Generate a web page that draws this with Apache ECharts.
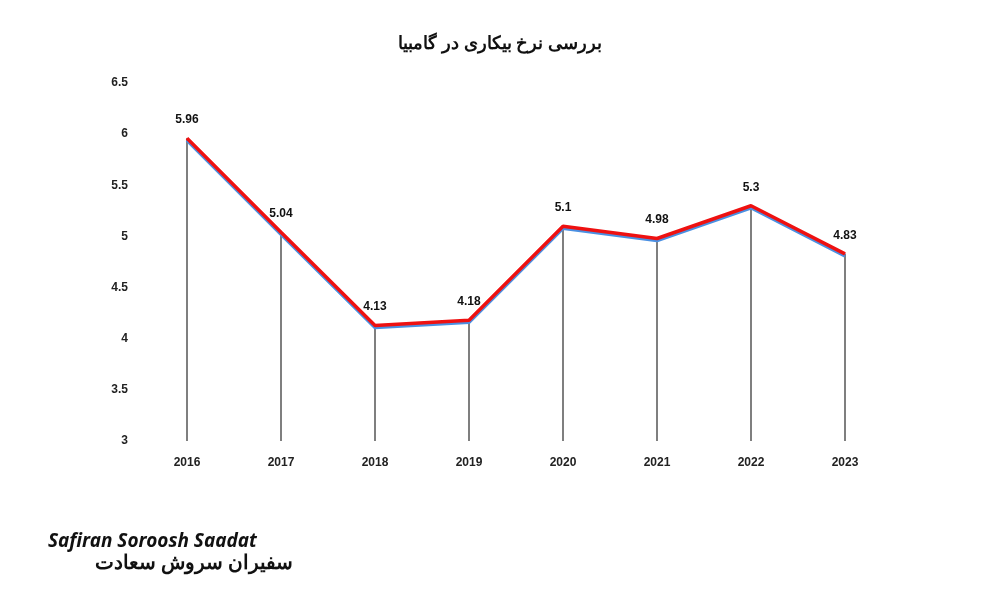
<!DOCTYPE html>
<html lang="fa">
<head>
<meta charset="UTF-8">
<title>بررسی نرخ بیکاری در گامبیا</title>
<script src="https://cdn.jsdelivr.net/npm/echarts@6/dist/echarts.min.js"></script>
<style>
  html, body { margin: 0; padding: 0; background: #fff; }
  #box { width: 1000px; height: 600px; }
</style>
</head>
<body>
<div id="box"></div>
<script>
var years = ['2016', '2017', '2018', '2019', '2020', '2021', '2022', '2023'];
var rates = [5.96, 5.04, 4.13, 4.18, 5.1, 4.98, 5.3, 4.83];

var chart = echarts.init(document.getElementById('box'));
chart.setOption({
    animation: false,
    title: {
        text: 'بررسی نرخ بیکاری در گامبیا',
        left: 'center', top: 30,
        textStyle: { fontFamily: 'Noto Sans', fontSize: 18, fontWeight: 'bold', color: '#111' }
    },
    grid: { left: 140, right: 108, top: 83, bottom: 159 },
    xAxis: {
        type: 'category',
        data: years,
        axisLine: { show: false },
        axisTick: { show: false },
        axisLabel: { color: '#222', fontWeight: 'bold', fontSize: 12, margin: 16 }
    },
    yAxis: {
        type: 'value',
        min: 3, max: 6.5, interval: 0.5,
        splitLine: { show: false },
        axisLabel: { color: '#222', fontWeight: 'bold', fontSize: 12, margin: 12 }
    },
    series: [
        {
            type: 'bar',
            data: rates,
            barWidth: 1,
            itemStyle: { color: '#000' },
            silent: true
        },
        {
            type: 'line',
            data: rates,
            symbol: 'circle',
            symbolSize: 1,
            itemStyle: { color: '#ee1111' },
            lineStyle: { color: '#ee1111', width: 3.5, shadowColor: '#4a90e2', shadowOffsetY: 2, shadowBlur: 0 },
            label: {
                show: true, position: 'top', distance: 12,
                color: '#111', fontWeight: 'bold', fontSize: 12
            }
        }
    ],
    graphic: [
        {
            type: 'text', left: 48, top: 532,
            style: { text: 'Safiran Soroosh Saadat', font: 'italic bold 19px "Noto Sans"', fill: '#111' }
        },
        {
            type: 'text', left: 95, top: 553,
            style: { text: 'سفیران سروش سعادت', font: 'bold 20px "Noto Sans"', fill: '#111' }
        }
    ]
});
</script>
</body>
</html>
